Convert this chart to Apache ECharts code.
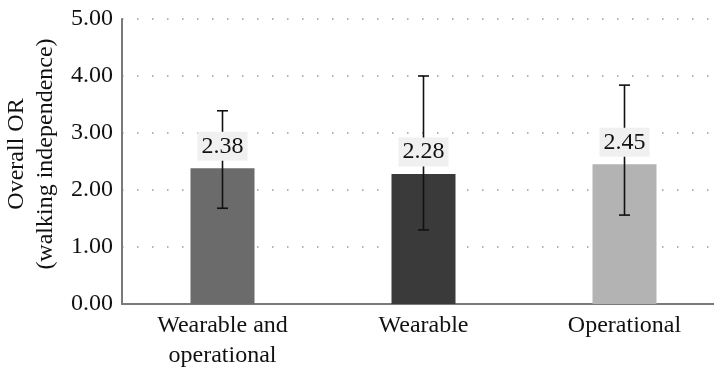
<!DOCTYPE html>
<html><head><meta charset="utf-8">
<script src="https://cdn.jsdelivr.net/npm/echarts@6/dist/echarts.min.js"></script>
<style>html,body{margin:0;padding:0;background:#fff}#c{width:714px;height:371px}</style>
</head><body><div id="c"></div>
<script>
const categories = ['Wearable and\noperational', 'Wearable', 'Operational'];
const values = [2.38, 2.28, 2.45];
const lower = [1.68, 1.30, 1.56];
const upper = [3.39, 4.00, 3.84];
const barColors = ['#6b6b6b', '#3a3a3a', '#b3b3b3'];
const yTicks = [0, 1, 2, 3, 4, 5];

const FONT = '"Liberation Serif", "DejaVu Serif", serif';
const chart = echarts.init(document.getElementById('c'), null, {renderer: 'canvas'});
chart.setOption({
  animation: false,
  grid: {left: 122, right: -11, top: 19, bottom: 67, containLabel: false, outerBoundsMode: 'none'},
  xAxis: {
    type: 'category', data: categories,
    axisLine: {lineStyle: {color: '#7a7a7a', width: 2}},
    axisTick: {show: false},
    axisLabel: {color: '#111', fontFamily: FONT, fontSize: 24, lineHeight: 30, margin: 7}
  },
  yAxis: {
    type: 'value', min: yTicks[0], max: yTicks[yTicks.length - 1], interval: 1,
    name: 'Overall OR\n(walking independence)', nameLocation: 'middle', nameGap: 59,
    nameTextStyle: {color: '#111', fontFamily: FONT, fontSize: 24, lineHeight: 29, padding: [0, 0, 0, 15]},
    axisLine: {show: true, lineStyle: {color: '#7a7a7a', width: 2}},
    axisTick: {show: false},
    axisLabel: {color: '#111', fontFamily: FONT, fontSize: 24, margin: 9, formatter: v => v.toFixed(2)},
    splitLine: {show: true, lineStyle: {color: '#9a9a9a', width: 1.5, type: [1.5, 13.5]}}
  },
  series: [
    {
      type: 'bar', barWidth: 64, z: 2,
      data: values.map((v, i) => ({value: v, itemStyle: {color: barColors[i]}}))
    },
    {
      type: 'custom', z: 5,
      data: values.map((v, i) => [i, v, lower[i], upper[i]]),
      renderItem: function (params, api) {
        const x = api.value(0);
        const top = api.coord([x, api.value(3)]);
        const bot = api.coord([x, api.value(2)]);
        const val = api.coord([x, api.value(1)]);
        const hw = 5.5;
        const ls = {stroke: '#111', lineWidth: 1.6};
        return {
          type: 'group',
          children: [
            {type: 'line', shape: {x1: top[0], y1: top[1], x2: bot[0], y2: bot[1]}, style: ls},
            {type: 'line', shape: {x1: top[0] - hw, y1: top[1], x2: top[0] + hw, y2: top[1]}, style: ls},
            {type: 'line', shape: {x1: bot[0] - hw, y1: bot[1], x2: bot[0] + hw, y2: bot[1]}, style: ls},
            {type: 'text', x: val[0], y: val[1] - 22,
             style: {text: api.value(1).toFixed(2), fill: '#111', font: '24px ' + FONT,
                     align: 'center', verticalAlign: 'middle',
                     backgroundColor: '#f0f0f0', padding: [3, 4, 2, 4]}}
          ]
        };
      }
    }
  ]
});
</script></body></html>
